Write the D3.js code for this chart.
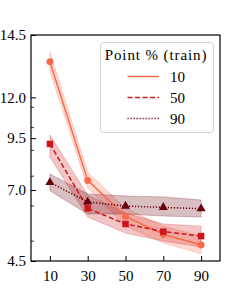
<!DOCTYPE html>
<html><head><meta charset="utf-8">
<script src="https://cdn.jsdelivr.net/npm/d3@7"></script>
<style>html,body{margin:0;padding:0;background:#fff}svg{display:block}</style>
</head><body><svg id="c" width="245" height="294"></svg>
<script>
// ---- data ----
const xValues = [10, 30, 50, 70, 90];
const seriesNames = ["10", "50", "90"];
const seriesColors = ["#fb6a4a", "#cb181d", "#67000d"];
const mean10 = [12.63, 6.83, 5.67, 5.17, 4.89];
const upper10 = [13.30, 7.13, 5.92, 5.39, 5.12];
const lower10 = [12.03, 6.57, 5.39, 4.94, 4.67];
const mean50 = [8.25, 5.91, 5.45, 5.24, 5.12];
const upper50 = [8.64, 6.33, 5.77, 5.45, 5.39];
const lower50 = [7.71, 5.65, 5.20, 4.99, 4.84];
const mean90 = [6.76, 6.11, 5.98, 5.94, 5.90];
const upper90 = [7.06, 6.37, 6.30, 6.27, 6.17];
const lower90 = [6.47, 5.74, 5.74, 5.68, 5.65];
const xTicks = [10, 30, 50, 70, 90];
const yTickValues = [4.5, 6.5, 8.5, 10.5, 14.5];
const yTickLabels = ["4.5", "7.0", "9.5", "12.0", "14.5"];
const yMinorTicks = [5, 6, 7, 8, 9, 10];
const legendTitle = "Point % (train)";

const series = [
  {name: seriesNames[0], color: seriesColors[0], mean: mean10, up: upper10, lo: lower10, dash: null, marker: "circle"},
  {name: seriesNames[1], color: seriesColors[1], mean: mean50, up: upper50, lo: lower50, dash: "5,2.5", marker: "square"},
  {name: seriesNames[2], color: seriesColors[2], mean: mean90, up: upper90, lo: lower90, dash: "1.2,1.8", marker: "triangle"}
];

// ---- layout ----
const L = 31, R = 220, T = 35, B = 261;
const font = "'Liberation Serif', 'DejaVu Serif', serif";
const svg = d3.select("#c");
const x = d3.scaleLinear().domain([0, 100]).range([L, R]);
const y = d3.scaleLog().domain([4.5, 14.5]).range([B, T]);

// bands
series.forEach(s => {
  const area = d3.area().x((d, i) => x(xValues[i])).y0((d, i) => y(s.lo[i])).y1((d, i) => y(s.up[i]));
  svg.append("path").attr("d", area(s.mean)).attr("fill", s.color).attr("fill-opacity", 0.25)
    .attr("stroke", s.color).attr("stroke-opacity", 0.25).attr("stroke-width", 1);
});
// lines
series.forEach(s => {
  const line = d3.line().x((d, i) => x(xValues[i])).y(d => y(d));
  svg.append("path").attr("d", line(s.mean)).attr("fill", "none").attr("stroke", s.color)
    .attr("stroke-width", 1.5).attr("stroke-dasharray", s.dash);
});
// markers
const symType = {circle: d3.symbolCircle, square: d3.symbolSquare, triangle: d3.symbolTriangle};
const symSize = {circle: 38, square: 42, triangle: 36};
series.forEach(s => {
  svg.append("g").selectAll("path").data(s.mean).join("path")
    .attr("transform", (d, i) => `translate(${x(xValues[i])},${y(d)})`)
    .attr("d", d3.symbol().type(symType[s.marker]).size(symSize[s.marker])())
    .attr("fill", s.color);
});

// axes
const xAxis = d3.axisBottom(x).tickValues(xTicks).tickSize(-5).tickFormat(d3.format("d"));
const gx = svg.append("g").attr("transform", `translate(0,${B})`).call(xAxis);
gx.select(".domain").remove();
gx.selectAll("line").attr("stroke", "#000").attr("stroke-width", 1);
gx.selectAll("text").attr("font-family", font).attr("font-size", 15).attr("fill", "#000").attr("dy", "1.05em").attr("y", 4);

const yAxis = d3.axisLeft(y).tickValues(yTickValues).tickSize(-5)
  .tickFormat((d, i) => yTickLabels[i]);
const gy = svg.append("g").attr("transform", `translate(${L},0)`).call(yAxis);
gy.select(".domain").remove();
gy.selectAll("line").attr("stroke", "#000").attr("stroke-width", 1);
gy.selectAll("text").attr("font-family", font).attr("font-size", 15).attr("fill", "#000").attr("x", -5);

const yMinor = d3.axisLeft(y).tickValues(yMinorTicks).tickSize(-3).tickFormat("");
const gym = svg.append("g").attr("transform", `translate(${L},0)`).call(yMinor);
gym.select(".domain").remove();
gym.selectAll("line").attr("stroke", "#000").attr("stroke-width", 0.8);

// frame
svg.append("rect").attr("x", L).attr("y", T).attr("width", R - L).attr("height", B - T)
  .attr("fill", "none").attr("stroke", "#000").attr("stroke-width", 1.2);

// legend
const lg = svg.append("g");
lg.append("rect").attr("x", 100.5).attr("y", 42.5).attr("width", 113).attr("height", 90).attr("rx", 3)
  .attr("fill", "#fff").attr("fill-opacity", 0.8).attr("stroke", "#d0d0d0").attr("stroke-width", 1);
lg.append("text").attr("x", 156).attr("y", 60).attr("text-anchor", "middle")
  .attr("font-family", font).attr("font-size", 15).attr("letter-spacing", 0.9).attr("fill", "#000").text(legendTitle);
series.forEach((s, i) => {
  const yy = 76.5 + i * 21;
  lg.append("line").attr("x1", 127.5).attr("x2", 159).attr("y1", yy).attr("y2", yy)
    .attr("stroke", s.color).attr("stroke-width", 1.5).attr("stroke-dasharray", s.dash);
  lg.append("text").attr("x", 170).attr("y", yy).attr("dy", "0.35em")
    .attr("font-family", font).attr("font-size", 15).attr("fill", "#000").text(s.name);
});
</script></body></html>
